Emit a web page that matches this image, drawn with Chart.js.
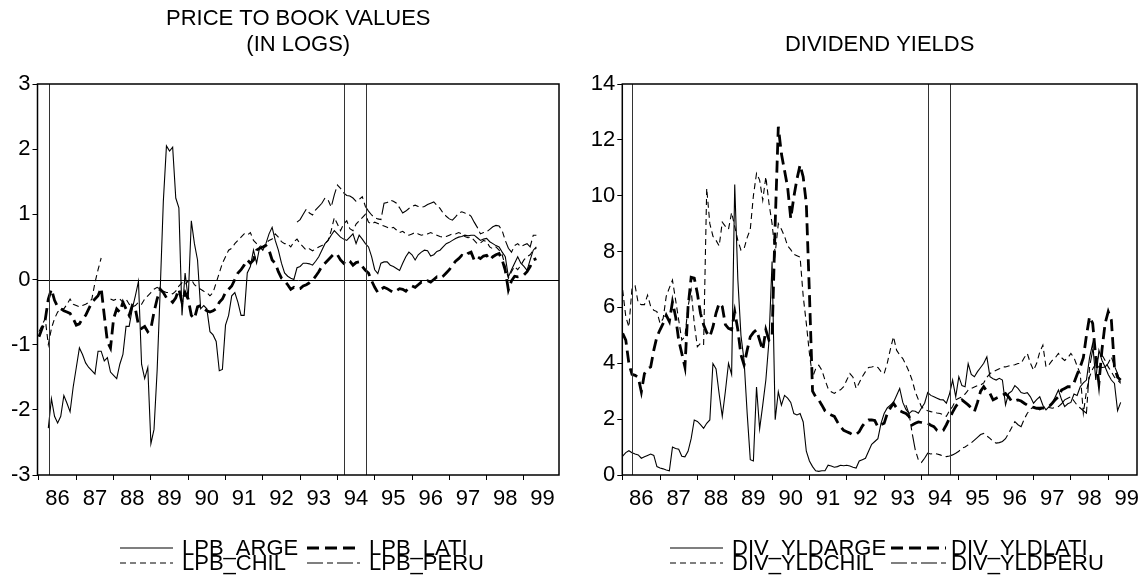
<!DOCTYPE html>
<html>
<head>
<meta charset="utf-8">
<script src="https://cdn.jsdelivr.net/npm/chart.js@4/dist/chart.umd.min.js"></script>
<style>
  html, body { margin: 0; padding: 0; background: #fff; }
  body { width: 1140px; height: 585px; position: relative; overflow: hidden; }
  canvas { position: absolute; top: 0; }
  #lpbChart { left: 0; }
  #divChart { left: 570px; }
</style>
</head>
<body>
<canvas id="lpbChart" width="570" height="585"></canvas>
<canvas id="divChart" width="570" height="585"></canvas>
<script>
// monthly observations, Jan 1986 .. May 1999 (index 0 = 1986m1)
const startYear = 1986;
const yearTicks = [1986, 1987, 1988, 1989, 1990, 1991, 1992, 1993, 1994, 1995, 1996, 1997, 1998, 1999];
const eventDates = [1986.26, 1994.17, 1994.76];

// price to book values (in logs)
const lpbArge = [
  null, null, null, -2.28, -1.83, -2.1, -2.2, -2.1, -1.78, -1.9,
  -2.03, -1.65, -1.35, -1.05, -1.15, -1.28, -1.35, -1.4, -1.45, -1.1,
  -1.1, -1.25, -1.2, -1.42, -1.47, -1.52, -1.3, -1.15, -0.72, -0.72,
  -0.45, -0.25, -0.03, -1.3, -1.52, -1.35, -2.52, -2.3, -1.4, -0.15,
  1.2, 2.05, 1.97, 2.03, 1.25, 1.1, -0.55, 0.1, -0.3, 0.9,
  0.55, 0.3, -0.45, -0.4, -0.45, -0.8, -0.85, -0.95, -1.4, -1.38,
  -0.7, -0.55, -0.25, -0.2, -0.35, -0.55, -0.55, 0.1, 0.2, 0.45,
  0.25, 0.5, 0.45, 0.55, 0.7, 0.8, 0.6, 0.45, 0.25, 0.1,
  0.05, 0.02, 0.0, 0.18, 0.2, 0.25, 0.25, 0.24, 0.22, 0.28,
  0.35, 0.45, 0.55, 0.6, 0.68, 0.75, 0.7, 0.65, 0.62, 0.6,
  0.65, 0.7, 0.55, 0.68, 0.62, 0.55, 0.5, 0.35, 0.15, 0.09,
  0.25, 0.27, 0.27, 0.22, 0.2, 0.17, 0.14, 0.25, 0.35, 0.42,
  0.38, 0.3, 0.38, 0.42, 0.45, 0.44, 0.36, 0.38, 0.43, 0.45,
  0.5, 0.55, 0.57, 0.6, 0.63, 0.65, 0.66, 0.68, 0.67, 0.68,
  0.68, 0.64, 0.6, 0.62, 0.63, 0.58, 0.55, 0.52, 0.5, 0.42,
  0.35, 0.04, 0.15, 0.25, 0.35, 0.25, 0.2, 0.14, 0.3, 0.45,
  0.5
];
const lpbLati = [
  -0.88, -0.75, -0.62, -0.3, -0.15, -0.32, -0.42, -0.45, -0.48, -0.5,
  -0.52, -0.6, -0.7, -0.68, -0.6, -0.55, -0.45, -0.35, -0.3, -0.25,
  -0.13, -0.55, -0.95, -1.05, -0.6, -0.45, -0.5, -0.35, -0.45, -0.55,
  -0.4, -0.45, -0.7, -0.75, -0.72, -0.8, -0.75, -0.5, -0.3, -0.15,
  -0.2, -0.28, -0.3, -0.35, -0.28, -0.15, -0.35, -0.2, -0.3, -0.55,
  -0.6, -0.42, -0.4, -0.45, -0.48, -0.5, -0.48, -0.45, -0.35, -0.3,
  -0.2, -0.15, -0.1, 0.0, 0.1, 0.15, 0.22, 0.3, 0.25, 0.3,
  0.45, 0.48, 0.5, 0.52, 0.45, 0.3, 0.25, 0.12, 0.02, -0.02,
  -0.08, -0.15, -0.12, -0.15, -0.14, -0.1, -0.08, -0.05, -0.01, 0.05,
  0.12, 0.2, 0.25, 0.3, 0.35, 0.4, 0.38, 0.3, 0.25, 0.3,
  0.28, 0.22, 0.26, 0.27, 0.2, 0.14, 0.1, -0.02, -0.12, -0.2,
  -0.15, -0.12, -0.14, -0.17, -0.2, -0.17, -0.14, -0.15, -0.18, -0.12,
  -0.1, -0.12, -0.08, -0.04, -0.05, -0.02, -0.04, 0.0, 0.04, 0.02,
  0.05, 0.1, 0.15, 0.22, 0.28, 0.32, 0.37, 0.35, 0.4, 0.42,
  0.3, 0.35, 0.32, 0.36, 0.37, 0.3, 0.35, 0.38, 0.4, 0.3,
  0.14, -0.16, -0.02, 0.05, 0.04, 0.05, 0.07, 0.12, 0.2, 0.3,
  0.32
];
const lpbChil = [
  -0.8, -0.7, -0.6, -1.0, -0.75, -0.6, -0.5, -0.45, -0.45, -0.38,
  -0.3, -0.38, -0.4, -0.42, -0.4, -0.38, -0.35, -0.3, -0.05, 0.15,
  0.33, null, null, -0.3, -0.32, -0.3, -0.3, -0.35, -0.3, -0.38,
  -0.42, -0.4, -0.35, -0.38, -0.3, -0.25, -0.2, -0.15, -0.12, -0.15,
  -0.18, -0.2, -0.2, -0.22, -0.18, -0.1, -0.05, -0.08, -0.02, 0.0,
  -0.08, -0.12, -0.15, -0.18, -0.2, -0.25, -0.2, -0.05, 0.1, 0.25,
  0.35, 0.45, 0.48, 0.55, 0.6, 0.65, 0.7, 0.68, 0.72, 0.6,
  0.55, 0.52, 0.5, 0.55, 0.6, 0.62, 0.7, 0.65, 0.58, 0.55,
  0.55, 0.5, 0.58, 0.62, 0.55, 0.5, 0.45, 0.47, 0.44, 0.47,
  0.5, 0.52, 0.55, 0.6, 0.75, 0.95, 0.85, 0.75, 0.85, 0.9,
  0.78, 0.75, 0.85, 0.9, 0.95, 1.0, 0.88, 0.85, 0.88, 0.86,
  0.84, 0.82, 0.8, 0.78, 0.8, 0.76, 0.72, 0.74, 0.7, 0.68,
  0.7, 0.72, 0.7, 0.68, 0.69, 0.7, 0.72, 0.7, 0.68, 0.66,
  0.65, 0.66, 0.68, 0.7, 0.7, 0.72, 0.7, 0.66, 0.64, 0.65,
  0.6, 0.55, 0.56, 0.6, 0.58, 0.5, 0.47, 0.5, 0.45, 0.38,
  0.2, 0.02, 0.12, 0.2, 0.15, 0.22, 0.3, 0.35, 0.38, 0.45,
  0.48
];
const lpbPeru = [
  null, null, null, null, null, null, null, null, null, null,
  null, null, null, null, null, null, null, null, null, null,
  null, null, null, null, null, null, null, null, null, null,
  null, null, null, null, null, null, null, null, null, null,
  null, null, null, null, null, null, null, null, null, null,
  null, null, null, null, null, null, null, null, null, null,
  null, null, null, null, null, null, null, null, null, null,
  null, null, null, null, null, null, null, null, null, null,
  null, null, null, 0.88, 0.92, 1.0, 1.08, 1.02, 0.99, 1.07,
  1.12, 1.17, 1.25, 1.22, 1.11, 1.3, 1.45, 1.4, 1.33, 1.29,
  1.28, 1.25, 1.2, 1.23, 1.27, 1.12, 1.05, 0.99, 0.95, 0.93,
  0.92, 1.17, 1.18, 1.22, 1.2, 1.17, 1.1, 1.02, 1.05, 1.09,
  1.12, 1.14, 1.12, 1.11, 1.12, 1.15, 1.17, 1.19, 1.14, 1.09,
  1.02, 0.97, 0.93, 0.91, 0.96, 1.02, 1.04, 1.02, 1.01, 0.97,
  0.88, 0.8, 0.7, 0.72, 0.73, 0.77, 0.81, 0.83, 0.82, 0.75,
  0.6, 0.48, 0.42, 0.52, 0.55, 0.5, 0.53, 0.55, 0.5, 0.68,
  0.68
];

// dividend yields
const divArge = [
  0.68, 0.8, 0.87, 0.8, 0.75, 0.72, 0.6, 0.65, 0.7, 0.75,
  0.7, 0.3, 0.25, 0.22, 0.18, 0.15, 1.0, 0.95, 0.92, 0.67,
  0.65, 0.85, 1.3, 1.97, 1.92, 1.8, 1.67, 1.85, 1.97, 3.99,
  3.8, 2.9, 2.1, 3.0, 4.0, 3.6, 10.4, 7.0, 5.0, 4.1,
  2.2, 0.55, 0.5, 3.15, 1.65, 2.5, 3.4, 4.8, 7.64, 1.98,
  2.98, 2.5, 2.85, 2.75, 2.6, 2.2, 2.15, 2.2, 1.9, 0.85,
  0.5, 0.3, 0.15, 0.13, 0.15, 0.15, 0.35, 0.32, 0.28, 0.3,
  0.35, 0.33, 0.35, 0.32, 0.28, 0.25, 0.5, 0.55, 0.6, 0.85,
  1.1, 1.2, 1.3, 1.85, 2.2, 2.4, 2.5, 2.6, 2.85, 3.1,
  2.6, 2.35, 2.2, 2.3, 2.28, 2.21, 2.4, 2.57, 2.95, 2.85,
  2.8, 2.75, 2.7, 2.69, 2.57, 2.9, 3.4, 2.8, 3.52, 3.2,
  3.16, 3.99, 3.6, 3.52, 3.7, 3.85, 4.0, 4.23, 3.52, 3.45,
  3.4, 3.46, 3.4, 2.51, 2.92, 3.0, 3.2, 3.1, 2.95, 2.92,
  2.95, 2.8, 2.57, 2.7, 2.8, 2.5, 2.33, 2.45, 2.57, 2.8,
  3.04, 2.7, 2.45, 2.55, 2.6, 2.9, 2.85, 3.16, 3.3, 3.4,
  4.2, 4.71, 3.4, 4.47, 4.1, 3.87, 3.6, 3.4, 3.28, 2.3,
  2.6
];
const divLati = [
  5.07, 4.83, 3.99, 3.6, 3.57, 3.5, 2.98, 3.63, 3.8, 3.87,
  4.47, 4.95, 5.2, 5.43, 5.72, 5.5, 6.2, 5.67, 4.83, 4.35,
  3.87, 6.0, 7.08, 7.05, 6.5, 5.79, 5.38, 5.1, 4.95, 5.3,
  5.8, 6.15, 6.03, 5.38, 5.25, 5.2, 5.85, 5.2, 4.3, 3.94,
  4.47, 4.95, 5.1, 5.2, 4.83, 4.47, 5.2, 4.83, 4.95, 9.0,
  12.47, 11.5, 10.9, 10.3, 9.18, 9.96, 10.6, 11.1, 10.67, 9.72,
  6.5, 3.0, 2.8, 2.69, 2.5, 2.3, 2.21, 2.15, 2.1, 1.9,
  1.73, 1.6, 1.55, 1.5, 1.43, 1.45, 1.55, 1.75, 1.9, 1.97,
  1.97, 1.95, 1.72, 1.8, 1.85, 2.2, 2.4, 2.57, 2.4, 2.3,
  2.25, 2.2, 2.1, 1.79, 1.85, 1.9, 1.88, 1.85, 1.85, 1.78,
  1.73, 1.6, 1.55, 1.6, 1.8, 2.03, 2.25, 2.45, 2.6, 2.69,
  2.6, 2.51, 2.4, 2.27, 2.6, 3.0, 3.16, 3.0, 2.92, 2.69,
  2.75, 2.8, 2.85, 2.92, 2.8, 2.63, 2.65, 2.69, 2.65, 2.57,
  2.5, 2.45, 2.42, 2.39, 2.39, 2.4, 2.39, 2.45, 2.57, 2.7,
  2.8, 3.04, 3.1, 3.16, 3.16, 3.3, 3.6, 3.87, 4.2, 5.0,
  5.67, 5.43, 4.2, 3.28, 4.5, 5.43, 5.85, 5.55, 3.87, 3.5,
  3.4
];
const divChil = [
  6.62, 5.67, 5.3, 6.7, 6.77, 6.15, 6.1, 6.1, 6.44, 6.03,
  5.9, 5.85, 5.43, 5.6, 6.4, 6.7, 6.98, 6.27, 5.55, 4.83,
  4.95, 6.03, 6.62, 5.43, 4.59, 4.71, 4.65, 10.26, 9.0, 8.55,
  8.4, 8.2, 9.05, 8.9, 8.8, 9.4, 8.9, 8.4, 8.05, 8.1,
  8.5, 8.8, 10.0, 10.8, 10.56, 9.84, 10.68, 9.73, 9.0, 7.93,
  9.0, 8.8, 8.55, 8.2, 8.07, 7.9, 7.85, 7.8, 6.4, 5.43,
  4.35, 3.5, 3.8, 3.93, 3.75, 3.4, 3.1, 2.98, 2.92, 3.0,
  3.05, 3.16, 3.4, 3.63, 3.5, 3.1, 3.3, 3.52, 3.7, 3.85,
  3.87, 3.9, 3.85, 3.7, 3.63, 4.0, 4.5, 4.95, 4.47, 4.3,
  4.17, 3.95, 3.7, 3.4, 2.98, 2.7, 2.44, 2.35, 2.3, 2.27,
  2.25, 2.22, 2.2, 2.15, 2.1, 2.3, 2.45, 2.69, 2.75, 2.8,
  2.9, 3.04, 3.1, 3.15, 3.2, 3.22, 3.3, 3.5, 3.63, 3.7,
  3.75, 3.8, 3.87, 3.87, 3.9, 3.93, 3.95, 3.99, 4.0, 4.2,
  4.35, 4.0, 3.75, 4.0, 4.4, 4.65, 3.87, 3.95, 4.1, 4.2,
  4.35, 4.2, 4.1, 4.2, 4.35, 4.2, 3.9, 3.63, 2.21, 3.0,
  3.52, 3.8, 3.99, 4.29, 4.3, 4.1, 3.87, 3.7, 3.5, 3.4,
  3.28
];
const divPeru = [
  null, null, null, null, null, null, null, null, null, null,
  null, null, null, null, null, null, null, null, null, null,
  null, null, null, null, null, null, null, null, null, null,
  null, null, null, null, null, null, null, null, null, null,
  null, null, null, null, null, null, null, null, null, null,
  null, null, null, null, null, null, null, null, null, null,
  null, null, null, null, null, null, null, null, null, null,
  null, null, null, null, null, null, null, null, null, null,
  null, null, null, null, null, null, null, null, null, null,
  null, 2.5, 2.2, 1.5, 0.9, 0.54, 0.45, 0.6, 0.78, 0.75,
  0.78, 0.75, 0.72, 0.68, 0.66, 0.68, 0.72, 0.78, 0.85, 0.96,
  1.0, 1.08, 1.15, 1.25, 1.35, 1.45, 1.49, 1.4, 1.31, 1.2,
  1.14, 1.16, 1.2, 1.3, 1.49, 1.7, 1.91, 1.8, 1.73, 2.0,
  2.21, 2.35, 2.45, 2.4, 2.33, 2.4, 2.45, 2.42, 2.39, 2.42,
  2.45, 2.55, 2.69, 2.75, 2.8, 2.65, 2.5, 2.4, 2.3, 2.21,
  3.87, 4.47, 4.2, 3.87, 3.85, 3.87, 4.0, 4.23, 3.9, 3.63,
  3.28
];

const FONT = 'Liberation Sans, Arial, Helvetica, sans-serif';
Chart.defaults.font.family = FONT;
Chart.defaults.font.size = 22;
Chart.defaults.color = '#000';

const styles = {
  arge: { borderWidth: 1.1, borderDash: [] },
  lati: { borderWidth: 2.8, borderDash: [12, 6] },
  chil: { borderWidth: 1.1, borderDash: [6, 4] },
  peru: { borderWidth: 1.1, borderDash: [16, 4, 6, 4] }
};

function toPoints(values) {
  return values.map((v, i) => ({ x: startYear + i / 12, y: v }));
}

// frame, reference lines, titles and legend drawn on top of the chart
const framePlugin = {
  id: 'frame',
  afterDatasetsDraw(chart, args, opts) {
    const { ctx, chartArea: a, scales } = chart;
    ctx.save();
    ctx.strokeStyle = '#000';
    ctx.setLineDash([]);
    ctx.lineWidth = 1;
    if (opts.zeroLine) {
      const y0 = Math.round(scales.y.getPixelForValue(0)) + 0.5;
      ctx.beginPath();
      ctx.moveTo(a.left, y0);
      ctx.lineTo(a.right, y0);
      ctx.stroke();
    }
    ctx.strokeStyle = '#333';
    eventDates.forEach(d => {
      const x = Math.round(scales.x.getPixelForValue(d)) + 0.5;
      ctx.beginPath();
      ctx.moveTo(x, a.top);
      ctx.lineTo(x, a.bottom);
      ctx.stroke();
    });
    ctx.strokeStyle = '#000';
    ctx.lineWidth = 1.5;
    ctx.strokeRect(a.left, a.top, a.right - a.left, a.bottom - a.top);

    // title
    ctx.fillStyle = '#000';
    ctx.font = '22px ' + FONT;
    ctx.textAlign = 'center';
    ctx.textBaseline = 'middle';
    const cx = (a.left + a.right) / 2;
    opts.title.forEach((line, i) => {
      ctx.fillText(line, cx, opts.titleY[i]);
    });

    // legend, two columns by two rows
    ctx.textAlign = 'left';
    chart.data.datasets.forEach((ds, i) => {
      const col = opts.legendCols[i % 2];
      const y = opts.legendRows[Math.floor(i / 2)];
      ctx.lineWidth = ds.borderWidth;
      ctx.setLineDash(ds.borderDash);
      ctx.beginPath();
      ctx.moveTo(col.line[0], y);
      ctx.lineTo(col.line[1], y);
      ctx.stroke();
      ctx.setLineDash([]);
      ctx.fillText(ds.label, col.text, y + 1);
    });
    ctx.restore();
  }
};

function makeChart(id, series, s) {
  return new Chart(document.getElementById(id), {
    type: 'line',
    data: {
      datasets: series.map(sr => ({
        label: sr.label,
        data: toPoints(sr.values),
        borderColor: '#000',
        borderWidth: styles[sr.style].borderWidth,
        borderDash: styles[sr.style].borderDash,
        pointRadius: 0,
        tension: 0,
        spanGaps: false,
        fill: false
      }))
    },
    options: {
      responsive: false,
      animation: false,
      events: [],
      layout: { padding: { left: 0, top: 84, right: s.padRight, bottom: 80 } },
      plugins: {
        legend: { display: false },
        title: { display: false },
        tooltip: { enabled: false },
        frame: {
          zeroLine: s.zeroLine,
          title: s.title,
          titleY: s.titleY,
          legendRows: [548, 563],
          legendCols: s.legendCols
        }
      },
      scales: {
        x: {
          type: 'linear',
          min: s.xMin,
          max: s.xMax,
          afterBuildTicks: scale => { scale.ticks = yearTicks.map(v => ({ value: v })); },
          afterFit: scale => { scale.height = 30; scale.paddingLeft = 0; scale.paddingRight = 0; },
          border: { display: false },
          grid: { drawOnChartArea: false, drawTicks: true, tickLength: 5, tickColor: '#000', tickWidth: 1 },
          ticks: {
            autoSkip: false,
            maxRotation: 0,
            padding: 6,
            labelOffset: 18.6,
            callback: v => String(v % 100)
          }
        },
        y: {
          min: s.yMin,
          max: s.yMax,
          afterFit: scale => { scale.width = s.axisWidth; },
          border: { display: false },
          grid: { drawOnChartArea: false, drawTicks: true, tickLength: 5, tickColor: '#000', tickWidth: 1 },
          ticks: { stepSize: s.yStep, padding: 2 }
        }
      }
    },
    plugins: [framePlugin]
  });
}

makeChart('lpbChart', [
  { label: 'LPB_ARGE', values: lpbArge, style: 'arge' },
  { label: 'LPB_LATI', values: lpbLati, style: 'lati' },
  { label: 'LPB_CHIL', values: lpbChil, style: 'chil' },
  { label: 'LPB_PERU', values: lpbPeru, style: 'peru' }
], {
  title: ['PRICE TO BOOK VALUES', '(IN LOGS)'],
  titleY: [19, 45],
  zeroLine: true,
  xMin: 1985.96, xMax: 1999.94,
  yMin: -3, yMax: 3, yStep: 1,
  axisWidth: 37.5, padRight: 11,
  legendCols: [{ line: [120, 173], text: 182 }, { line: [307, 360], text: 369 }]
});

makeChart('divChart', [
  { label: 'DIV_YLDARGE', values: divArge, style: 'arge' },
  { label: 'DIV_YLDLATI', values: divLati, style: 'lati' },
  { label: 'DIV_YLDCHIL', values: divChil, style: 'chil' },
  { label: 'DIV_YLDPERU', values: divPeru, style: 'peru' }
], {
  title: ['DIVIDEND YIELDS'],
  titleY: [45],
  zeroLine: false,
  xMin: 1985.99, xMax: 1999.77,
  yMin: 0, yMax: 14, yStep: 2,
  axisWidth: 52.3, padRight: 3,
  legendCols: [{ line: [100, 153], text: 162 }, { line: [321, 376], text: 381 }]
});
</script>
</body>
</html>
